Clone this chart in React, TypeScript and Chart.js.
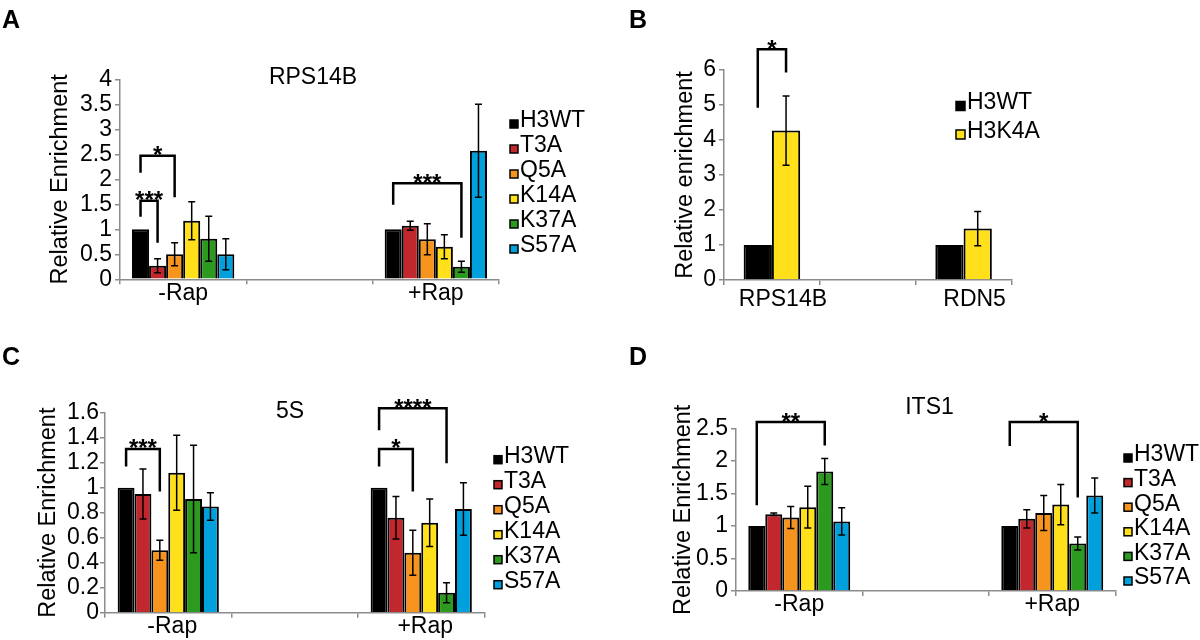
import React, { useEffect, useRef } from "react";
import { Chart, registerables } from "chart.js";

Chart.register(...registerables);

const FONT_FAMILY = '"Liberation Sans", Arial, Helvetica, sans-serif';
const AXIS_COLOR = "#8c8c8c";
const TEXT_SIZE = 23;

// ---------- shared categories ----------
const MUTANTS = ["H3WT", "T3A", "Q5A", "K14A", "K37A", "S57A"];
const MUTANT_COLORS = ["#000000", "#c1272d", "#f7941d", "#ffe01b", "#2b9a1e", "#00a0dc"];
const RAP_LABELS = ["-Rap", "", "+Rap"];

// ---------- Panel A : RPS14B ----------
const A_TITLE = "RPS14B";
const A_TICKS = [0, 0.5, 1, 1.5, 2, 2.5, 3, 3.5, 4];
const A_MINUS_RAP = [1.0, 0.27, 0.5, 1.17, 0.81, 0.5];
const A_MINUS_RAP_ERR = [0, 0.14, 0.23, 0.38, 0.45, 0.31];
const A_PLUS_RAP = [1.0, 1.07, 0.8, 0.65, 0.25, 2.57];
const A_PLUS_RAP_ERR = [0, 0.09, 0.31, 0.24, 0.11, 0.93];
const A_BRACKETS = [
  { cat: 0, from: 0, to: 2, top: 2.47, fromEnd: 2.13, toEnd: 1.64, text: "*" },
  { cat: 0, from: 0, to: 1, top: 1.57, fromEnd: 1.25, toEnd: 0.73, text: "***" },
  { cat: 2, from: 0, to: 4, top: 1.92, fromEnd: 1.49, toEnd: 0.83, text: "***" },
];

// ---------- Panel B : H3K4A ----------
const B_GENES = ["RPS14B", "", "RDN5"];
const B_STRAINS = ["H3WT", "H3K4A"];
const B_COLORS = ["#000000", "#ffe01b"];
const B_TICKS = [0, 1, 2, 3, 4, 5, 6];
const B_H3WT = [1.0, null, 1.0];
const B_H3WT_ERR = [0, 0, 0];
const B_H3K4A = [4.27, null, 1.47];
const B_H3K4A_ERR = [0.99, 0, 0.49];
const B_BRACKETS = [
  { cat: 0, from: 0, to: 1, top: 6.59, fromEnd: 4.92, toEnd: 5.93, text: "*" },
];

// ---------- Panel C : 5S ----------
const C_TITLE = "5S";
const C_TICKS = [0, 0.2, 0.4, 0.6, 0.8, 1, 1.2, 1.4, 1.6];
const C_MINUS_RAP = [1.0, 0.95, 0.5, 1.12, 0.91, 0.85];
const C_MINUS_RAP_ERR = [0, 0.2, 0.08, 0.3, 0.43, 0.11];
const C_PLUS_RAP = [1.0, 0.76, 0.48, 0.72, 0.16, 0.83];
const C_PLUS_RAP_ERR = [0, 0.17, 0.18, 0.19, 0.08, 0.21];
const C_BRACKETS = [
  { cat: 0, from: 0, to: 2, top: 1.31, fromEnd: 1.17, toEnd: 0.97, text: "***" },
  { cat: 2, from: 0, to: 2, top: 1.31, fromEnd: 1.17, toEnd: 0.97, text: "*" },
  { cat: 2, from: 0, to: 4, top: 1.635, fromEnd: 1.46, toEnd: 1.195, text: "****" },
];

// ---------- Panel D : ITS1 ----------
const D_TITLE = "ITS1";
const D_TICKS = [0, 0.5, 1, 1.5, 2, 2.5];
const D_MINUS_RAP = [1.0, 1.18, 1.13, 1.29, 1.84, 1.07];
const D_MINUS_RAP_ERR = [0, 0.02, 0.17, 0.32, 0.2, 0.21];
const D_PLUS_RAP = [1.0, 1.11, 1.2, 1.33, 0.73, 1.47];
const D_PLUS_RAP_ERR = [0, 0.14, 0.27, 0.31, 0.1, 0.27];
const D_BRACKETS = [
  { cat: 0, from: 0, to: 4, top: 2.6, fromEnd: 1.32, toEnd: 2.24, text: "**" },
  { cat: 2, from: 0, to: 4, top: 2.6, fromEnd: 2.23, toEnd: 1.44, text: "*" },
];

type Bracket = { cat: number; from: number; to: number; top: number; fromEnd: number; toEnd: number; text: string };

function mutantDatasets(minus: number[], minusErr: number[], plus: number[], plusErr: number[]) {
  return MUTANTS.map((name, i) => ({
    label: name,
    data: [minus[i], null, plus[i]],
    errors: [minusErr[i], 0, plusErr[i]],
    backgroundColor: MUTANT_COLORS[i],
    borderColor: "#000000",
    borderWidth: 2,
  }));
}

function strainDatasets() {
  const values = [B_H3WT, B_H3K4A];
  const errs = [B_H3WT_ERR, B_H3K4A_ERR];
  return B_STRAINS.map((name, i) => ({
    label: name,
    data: values[i],
    errors: errs[i],
    backgroundColor: B_COLORS[i],
    borderColor: "#000000",
    borderWidth: 2,
  }));
}

const errorBarPlugin = {
  id: "errorBars",
  afterDatasetsDraw(chart: any) {
    const ctx = chart.ctx;
    const ys = chart.scales.y;
    ctx.save();
    ctx.strokeStyle = "#000";
    ctx.lineWidth = 1.5;
    chart.data.datasets.forEach((ds: any, di: number) => {
      const meta = chart.getDatasetMeta(di);
      meta.data.forEach((el: any, i: number) => {
        const v = ds.data[i];
        const e = ds.errors ? ds.errors[i] : 0;
        if (v == null || !e) return;
        const x = el.x;
        const y1 = ys.getPixelForValue(v + e);
        const y2 = ys.getPixelForValue(v - e);
        ctx.beginPath();
        ctx.moveTo(x, y1);
        ctx.lineTo(x, y2);
        ctx.moveTo(x - 3.5, y1);
        ctx.lineTo(x + 3.5, y1);
        ctx.moveTo(x - 3.5, y2);
        ctx.lineTo(x + 3.5, y2);
        ctx.stroke();
      });
    });
    ctx.restore();
  },
};

function makeBracketPlugin(brackets: Bracket[]) {
  return {
    id: "brackets",
    afterDraw(chart: any) {
      const ctx = chart.ctx;
      const ys = chart.scales.y;
      ctx.save();
      ctx.strokeStyle = "#000";
      ctx.lineWidth = 2.5;
      ctx.lineJoin = "miter";
      ctx.fillStyle = "#000";
      ctx.font = `bold 24px ${FONT_FAMILY}`;
      ctx.textAlign = "center";
      ctx.textBaseline = "alphabetic";
      brackets.forEach((b) => {
        const x1 = chart.getDatasetMeta(b.from).data[b.cat].x;
        const x2 = chart.getDatasetMeta(b.to).data[b.cat].x;
        const yt = ys.getPixelForValue(b.top);
        ctx.beginPath();
        ctx.moveTo(x1, ys.getPixelForValue(b.fromEnd));
        ctx.lineTo(x1, yt);
        ctx.lineTo(x2, yt);
        ctx.lineTo(x2, ys.getPixelForValue(b.toEnd));
        ctx.stroke();
        ctx.fillText(b.text, (x1 + x2) / 2, yt + 7.5);
      });
      ctx.restore();
    },
  };
}

type LegendSpec = { x: number; y: number; step: number; box: number };
function makeLegendPlugin(spec: LegendSpec) {
  return {
    id: "boxLegend",
    afterDraw(chart: any) {
      const ctx = chart.ctx;
      ctx.save();
      ctx.font = `${TEXT_SIZE}px ${FONT_FAMILY}`;
      ctx.textAlign = "left";
      ctx.textBaseline = "middle";
      chart.data.datasets.forEach((ds: any, i: number) => {
        const cy = spec.y + i * spec.step;
        const by = cy + 3 - spec.box / 2;
        ctx.fillStyle = ds.backgroundColor;
        ctx.fillRect(spec.x, by, spec.box, spec.box);
        ctx.strokeStyle = "#000";
        ctx.lineWidth = 1.5;
        ctx.strokeRect(spec.x, by, spec.box, spec.box);
        ctx.fillStyle = "#000";
        ctx.fillText(ds.label, spec.x + spec.box + 2, cy);
      });
      ctx.restore();
    },
  };
}

type TextSpec = { title?: string; tx?: number; ty?: number; letter: string; lx: number; ly: number };
function makeTextPlugin(spec: TextSpec) {
  return {
    id: "panelText",
    afterDraw(chart: any) {
      const ctx = chart.ctx;
      ctx.save();
      ctx.fillStyle = "#000";
      if (spec.title) {
        ctx.font = `${TEXT_SIZE}px ${FONT_FAMILY}`;
        ctx.textAlign = "center";
        ctx.textBaseline = "middle";
        ctx.fillText(spec.title, spec.tx, spec.ty);
      }
      ctx.font = `bold 25px ${FONT_FAMILY}`;
      ctx.textAlign = "left";
      ctx.textBaseline = "alphabetic";
      ctx.fillText(spec.letter, spec.lx, spec.ly);
      ctx.restore();
    },
  };
}

type PanelSpec = {
  box: { x: number; y: number; w: number; h: number };
  yAxisWidth: number;
  padTop: number;
  padRight: number;
  xAxisHeight: number;
  catPct: number;
  xPad: number;
  labelOffset: number;
  yPad: number;
  yTitle: string;
  yTitlePad: number;
  ticks: number[];
  labels: string[];
  datasets: any[];
  brackets: Bracket[];
  legend: LegendSpec;
  text: TextSpec;
};

const PANELS: PanelSpec[] = [
  {
    box: { x: 0, y: 0, w: 600, h: 320 },
    yAxisWidth: 120, padTop: 79.3, padRight: 101, xAxisHeight: 40.7,
    catPct: 0.81, xPad: -2.5, labelOffset: 0, yPad: 3,
    yTitle: "Relative Enrichment", yTitlePad: 46,
    ticks: A_TICKS, labels: RAP_LABELS,
    datasets: mutantDatasets(A_MINUS_RAP, A_MINUS_RAP_ERR, A_PLUS_RAP, A_PLUS_RAP_ERR),
    brackets: A_BRACKETS,
    legend: { x: 510, y: 121, step: 25, box: 8 },
    text: { title: A_TITLE, tx: 313, ty: 78, letter: "A", lx: 2, ly: 28 },
  },
  {
    box: { x: 600, y: 0, w: 600, h: 320 },
    yAxisWidth: 124, padTop: 70, padRight: 188.5, xAxisHeight: 40,
    catPct: 0.59, xPad: 3.5, labelOffset: 11, yPad: 3,
    yTitle: "Relative enrichment", yTitlePad: 71.4,
    ticks: B_TICKS, labels: B_GENES,
    datasets: strainDatasets(),
    brackets: B_BRACKETS,
    legend: { x: 356, y: 103, step: 28.5, box: 9 },
    text: { letter: "B", lx: 29, ly: 28 },
  },
  {
    box: { x: 0, y: 320, w: 600, h: 320 },
    yAxisWidth: 105, padTop: 92.7, padRight: 115.5, xAxisHeight: 27.3,
    catPct: 0.8, xPad: -2.5, labelOffset: 4, yPad: 1,
    yTitle: "Relative Enrichment", yTitlePad: 34.4,
    ticks: C_TICKS, labels: RAP_LABELS,
    datasets: mutantDatasets(C_MINUS_RAP, C_MINUS_RAP_ERR, C_PLUS_RAP, C_PLUS_RAP_ERR),
    brackets: C_BRACKETS,
    legend: { x: 494, y: 136.7, step: 25, box: 8 },
    text: { title: C_TITLE, tx: 290, ty: 91.7, letter: "C", lx: 2, ly: 45 },
  },
  {
    box: { x: 600, y: 320, w: 600, h: 320 },
    yAxisWidth: 136, padTop: 108.5, padRight: 84.5, xAxisHeight: 49,
    catPct: 0.806, xPad: -2.5, labelOffset: 0, yPad: 3,
    yTitle: "Relative Enrichment", yTitlePad: 69,
    ticks: D_TICKS, labels: RAP_LABELS,
    datasets: mutantDatasets(D_MINUS_RAP, D_MINUS_RAP_ERR, D_PLUS_RAP, D_PLUS_RAP_ERR),
    brackets: D_BRACKETS,
    legend: { x: 524, y: 135, step: 24.6, box: 8 },
    text: { title: D_TITLE, tx: 329.5, ty: 87.5, letter: "D", lx: 29, ly: 45 },
  },
];

function buildConfig(p: PanelSpec): any {
  const tickFont = { family: FONT_FAMILY, size: TEXT_SIZE, lineHeight: 1 };
  return {
    type: "bar",
    data: { labels: p.labels, datasets: p.datasets },
    options: {
      animation: false,
      responsive: false,
      devicePixelRatio: 1,
      layout: { padding: { top: p.padTop, right: p.padRight, left: 0, bottom: 0 } },
      datasets: { bar: { categoryPercentage: p.catPct, barPercentage: 1 } },
      scales: {
        x: {
          type: "category",
          offset: true,
          grid: { offset: true, drawOnChartArea: false, tickLength: 5, color: AXIS_COLOR, lineWidth: 1.5 },
          border: { color: AXIS_COLOR, width: 1.5 },
          ticks: { font: tickFont, color: "#000", padding: p.xPad, labelOffset: p.labelOffset, maxRotation: 0, autoSkip: false },
          afterFit: (s: any) => { s.height = p.xAxisHeight; },
        },
        y: {
          min: p.ticks[0],
          max: p.ticks[p.ticks.length - 1],
          grid: { drawOnChartArea: false, tickLength: 5, color: AXIS_COLOR, lineWidth: 1.5 },
          border: { color: AXIS_COLOR, width: 1.5 },
          afterBuildTicks: (s: any) => { s.ticks = p.ticks.map((v) => ({ value: v })); },
          ticks: { font: tickFont, color: "#000", padding: p.yPad, autoSkip: false, callback: (v: any) => String(v) },
          title: {
            display: true,
            text: p.yTitle,
            color: "#000",
            font: { family: FONT_FAMILY, size: 23.5, lineHeight: 1.2 },
            padding: { top: p.yTitlePad, bottom: 0 },
          },
          afterFit: (s: any) => { s.width = p.yAxisWidth; },
        },
      },
      plugins: { legend: { display: false }, tooltip: { enabled: false }, title: { display: false } },
    },
    plugins: [errorBarPlugin, makeBracketPlugin(p.brackets), makeLegendPlugin(p.legend), makeTextPlugin(p.text)],
  };
}

function Panel({ spec }: { spec: PanelSpec }) {
  const ref = useRef<HTMLCanvasElement>(null);
  useEffect(() => {
    const chart = new Chart(ref.current as HTMLCanvasElement, buildConfig(spec));
    return () => chart.destroy();
  }, [spec]);
  return (
    <canvas
      ref={ref}
      width={spec.box.w}
      height={spec.box.h}
      style={{ position: "absolute", left: spec.box.x, top: spec.box.y, width: spec.box.w, height: spec.box.h }}
    />
  );
}

export default function App() {
  return (
    <div style={{ position: "absolute", left: 0, top: 0, width: 1200, height: 640, background: "#fff", overflow: "hidden" }}>
      {PANELS.map((p, i) => (
        <Panel key={i} spec={p} />
      ))}
    </div>
  );
}
